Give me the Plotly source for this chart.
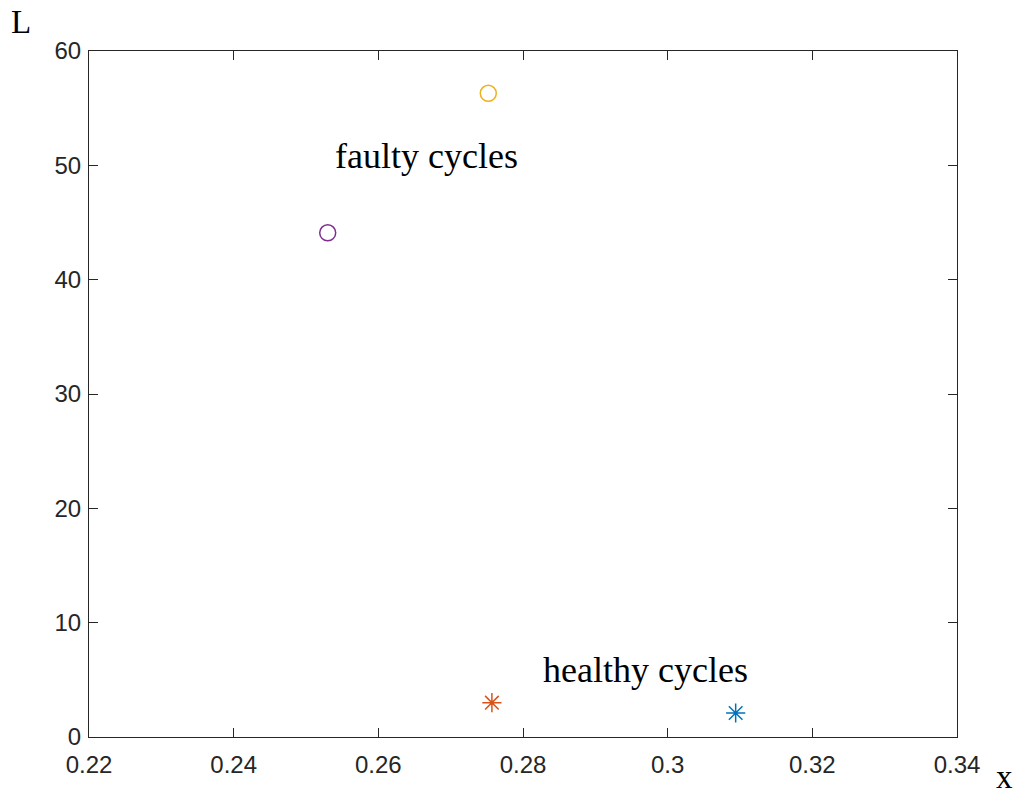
import plotly.graph_objects as go

# Data
faulty_x = [0.2752, 0.2530]
faulty_y = [56.3, 44.1]
faulty_colors = ["#EDB120", "#7E2F8E"]

healthy_x = [0.2757, 0.3094]
healthy_y = [3.0, 2.1]
healthy_colors = ["#D95319", "#0072BD"]

x_ticks = [0.22, 0.24, 0.26, 0.28, 0.30, 0.32, 0.34]
x_tick_labels = ["0.22", "0.24", "0.26", "0.28", "0.3", "0.32", "0.34"]
y_ticks = [0, 10, 20, 30, 40, 50, 60]

fig = go.Figure()
for xv, yv, c in zip(faulty_x, faulty_y, faulty_colors):
    fig.add_trace(go.Scatter(x=[xv], y=[yv], mode="markers",
                             marker=dict(symbol="circle-open", size=16, color=c,
                                         line=dict(width=1.5, color=c)),
                             showlegend=False))
for xv, yv, c in zip(healthy_x, healthy_y, healthy_colors):
    fig.add_trace(go.Scatter(x=[xv], y=[yv], mode="markers",
                             marker=dict(symbol="asterisk-open", size=16, color=c,
                                         line=dict(width=1.5, color=c)),
                             showlegend=False))

serif = "Liberation Serif, Times New Roman, serif"
fig.add_annotation(x=0.2667, y=50.8, text="faulty cycles", showarrow=False,
                   font=dict(family=serif, size=36, color="black"))
fig.add_annotation(x=0.2970, y=5.86, text="healthy cycles", showarrow=False,
                   font=dict(family=serif, size=36, color="black"))
fig.add_annotation(xref="paper", yref="paper", x=-0.078, y=1.042, text="L",
                   showarrow=False, font=dict(family=serif, size=33, color="black"),
                   xanchor="center", yanchor="middle")
fig.add_annotation(xref="paper", yref="paper", x=1.055, y=-0.058, text="x",
                   showarrow=False, font=dict(family=serif, size=33, color="black"),
                   xanchor="center", yanchor="middle")

axis_common = dict(showgrid=False, zeroline=False, showline=True, linecolor="#262626",
                   linewidth=1, mirror="ticks", ticks="inside", ticklen=9,
                   tickcolor="#262626", tickwidth=1,
                   tickfont=dict(family="Liberation Sans, Arial, sans-serif", size=24,
                                 color="#262626"))

fig.update_xaxes(range=[0.22, 0.34], tickvals=x_ticks, ticktext=x_tick_labels,
                 ticklabelstandoff=6, **axis_common)
fig.update_yaxes(range=[0, 60], tickvals=y_ticks, ticklabelstandoff=2, **axis_common)

fig.update_layout(width=1017, height=796, plot_bgcolor="white", paper_bgcolor="white",
                  margin=dict(l=89, r=60, t=51, b=59))

fig.write_html("out.html")
